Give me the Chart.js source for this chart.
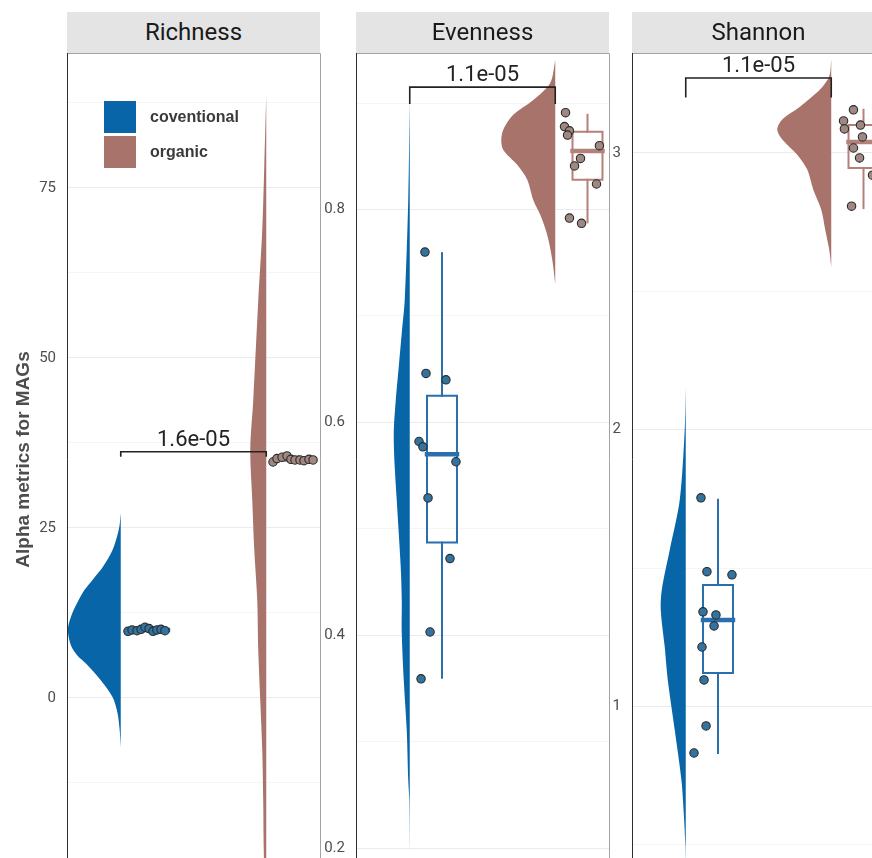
<!DOCTYPE html>
<html>
<head>
<meta charset="utf-8">
<script src="https://cdn.jsdelivr.net/npm/chart.js@4.4.1/dist/chart.umd.min.js"></script>
<style>
  html, body { margin: 0; padding: 0; background: #fff; width: 872px; height: 858px; overflow: hidden; }
  .pane { position: absolute; top: 0; }
  .strip { position: absolute; top: 12px; height: 41px; width: 253px; background: #e4e4e4; color: #1a1a1a;
           font: 24px Roboto, sans-serif; text-align: center; line-height: 41px; }
  .legend { position: absolute; left: 104px; top: 101px; font: bold 16px "Liberation Sans", Arial, sans-serif; color: #3a3a3a; }
  .key { display: flex; align-items: center; height: 32px; margin-bottom: 3px; }
  .swatch { width: 32px; height: 32px; margin-right: 14px; }
</style>
</head>
<body>
<div class="pane" style="left:0px"><canvas id="c1" width="321" height="866"></canvas></div>
<div class="pane" style="left:320px"><canvas id="c2" width="290" height="866"></canvas></div>
<div class="pane" style="left:609px"><canvas id="c3" width="277" height="866"></canvas></div>
<div class="strip" style="left:67px">Richness</div>
<div class="strip" style="left:356px">Evenness</div>
<div class="strip" style="left:632px">Shannon</div>
<div class="legend">
  <div class="key"><div class="swatch" style="background:#0866a8"></div>coventional</div>
  <div class="key"><div class="swatch" style="background:#a7736b"></div>organic</div>
</div>
<script>
// --- data ---
const groups = ['coventional', 'organic'];
const metrics = ['Richness', 'Evenness', 'Shannon'];
const pLabels = ['1.6e-05', '1.1e-05', '1.1e-05'];

const richTicks = [0, 25, 50, 75];
const evenTicks = [0.2, 0.4, 0.6, 0.8];
const shanTicks = [1, 2, 3];

// sample values and their horizontal jitter (x units)
const richConv = [9.8, 10.0, 9.9, 10.1, 10.4, 10.2, 9.8, 10.0, 10.1, 9.9];
const richConvJit = [-0.172, -0.144, -0.110, -0.082, -0.055, -0.027, 0, 0.027, 0.055, 0.082];
const richOrg = [34.7, 35.2, 35.4, 35.6, 35.1, 35.0, 35.0, 34.9, 35.1, 35.0];
const richOrgJit = [-0.175, -0.148, -0.113, -0.079, -0.052, -0.024, 0.010, 0.038, 0.072, 0.100];

const evenConv = [0.760, 0.646, 0.640, 0.582, 0.577, 0.563, 0.529, 0.472, 0.403, 0.359];
const evenConvJit = [-0.117, -0.110, 0.027, -0.158, -0.131, 0.096, -0.096, 0.055, -0.082, -0.144];
const evenOrg = [0.891, 0.878, 0.874, 0.870, 0.860, 0.848, 0.841, 0.824, 0.792, 0.787];
const evenOrgJit = [-0.151, -0.158, -0.124, -0.137, 0.082, -0.048, -0.089, 0.062, -0.124, -0.041];

const shanConv = [1.754, 1.487, 1.476, 1.342, 1.331, 1.291, 1.215, 1.096, 0.930, 0.832];
const shanConvJit = [-0.117, -0.076, 0.096, -0.103, -0.014, -0.027, -0.110, -0.096, -0.082, -0.165];
const shanOrg = [3.156, 3.116, 3.087, 3.101, 3.058, 3.018, 2.982, 2.920, 2.808, 3.045];
const shanOrgJit = [-0.069, -0.137, -0.131, -0.021, -0.007, -0.069, -0.027, 0.062, -0.082, 0.117];

// box stats: [lower whisker, q1, median, q3, upper whisker]
const richConvBox = [9.8, 9.9, 10.0, 10.1, 10.4];
const richOrgBox = [34.7, 35.0, 35.05, 35.15, 35.6];
const evenConvBox = [0.360, 0.487, 0.570, 0.625, 0.759];
const evenOrgBox = [0.788, 0.828, 0.855, 0.873, 0.889];
const shanConvBox = [0.832, 1.121, 1.313, 1.439, 1.747];
const shanOrgBox = [2.801, 2.946, 3.040, 3.101, 3.156];

// half violins: value levels and relative density
const richConvLvl = [27.2, 25.5, 24.3, 21.8, 19.3, 17.4, 15.9, 14.4, 12.6, 11.0, 10.0, 8.8, 7.5, 6.2, 5.1, 2.6, 0.1, -2.2, -4.7, -7.2];
const richConvDens = [0, 0.02, 0.05, 0.15, 0.33, 0.52, 0.67, 0.78, 0.89, 0.96, 0.98, 0.96, 0.91, 0.8, 0.65, 0.37, 0.15, 0.06, 0.02, 0];
const richOrgLvl = [88.7, 78.1, 68.8, 58.5, 43.8, 36.5, 29.1, 21.8, 14.4, 7.1, -0.3, -7.6, -15, -22.4, -28, -33];
const richOrgDens = [0, 0.037, 0.074, 0.148, 0.241, 0.296, 0.259, 0.222, 0.167, 0.148, 0.111, 0.074, 0.056, 0.046, 0.028, 0];

const evenConvLvl = [0.903, 0.809, 0.715, 0.684, 0.652, 0.621, 0.590, 0.558, 0.527, 0.496, 0.464, 0.433, 0.402, 0.358, 0.311, 0.264, 0.245, 0.198];
const evenConvDens = [0, 0.028, 0.093, 0.148, 0.204, 0.259, 0.296, 0.278, 0.241, 0.204, 0.167, 0.148, 0.148, 0.111, 0.056, 0.028, 0.009, 0];
const evenOrgLvl = [0.9405, 0.919, 0.903, 0.889, 0.875, 0.865, 0.856, 0.842, 0.828, 0.809, 0.795, 0.776, 0.753, 0.730];
const evenOrgDens = [0, 0.093, 0.407, 0.778, 0.963, 1.0, 0.963, 0.704, 0.519, 0.407, 0.278, 0.148, 0.056, 0];

const shanConvLvl = [2.152, 2.0, 1.747, 1.566, 1.421, 1.349, 1.215, 1.096, 0.915, 0.734, 0.615, 0.492, 0.40];
const shanConvDens = [0, 0.019, 0.111, 0.296, 0.444, 0.463, 0.389, 0.333, 0.204, 0.08, 0.037, 0.006, 0];
const shanOrgLvl = [3.338, 3.277, 3.230, 3.168, 3.121, 3.085, 3.049, 2.994, 2.940, 2.867, 2.795, 2.722, 2.650, 2.588];
const shanOrgDens = [0, 0.037, 0.204, 0.574, 0.907, 1.0, 0.907, 0.63, 0.444, 0.333, 0.185, 0.111, 0.037, 0];

// significance brackets: [top, tip end]
const richBracket = [36.2, 35.6];
const evenBracket = [0.915, 0.900];
const shanBracket = [3.271, 3.203];

// --- styling / layout ---
const fillCol = ['#0866a8', '#a7736b'];
const boxCol = ['#2a6fad', '#b3817a'];
const dotCol = ['#33739f', '#a08782'];
const X_MIN = 0.6306, X_MAX = 2.3694;
const BOX_SHIFT = 0.2216, BOX_HALF = 0.103, VIOLIN_W = 0.371;

Chart.defaults.font.family = 'Roboto';

const facets = [
  { id: 'c1', ticks: richTicks, min: -24.71, max: 94.85, axisW: 67, yTitle: true,
    lvl: [richConvLvl, richOrgLvl], dens: [richConvDens, richOrgDens],
    vals: [richConv, richOrg], jit: [richConvJit, richOrgJit],
    box: [richConvBox, richOrgBox], bracket: richBracket, p: pLabels[0] },
  { id: 'c2', ticks: evenTicks, min: 0.1831, max: 0.9471, axisW: 36,
    lvl: [evenConvLvl, evenOrgLvl], dens: [evenConvDens, evenOrgDens],
    vals: [evenConv, evenOrg], jit: [evenConvJit, evenOrgJit],
    box: [evenConvBox, evenOrgBox], bracket: evenBracket, p: pLabels[1] },
  { id: 'c3', ticks: shanTicks, min: 0.4237, max: 3.3613, axisW: 23,
    lvl: [shanConvLvl, shanOrgLvl], dens: [shanConvDens, shanOrgDens],
    vals: [shanConv, shanOrg], jit: [shanConvJit, shanOrgJit],
    box: [shanConvBox, shanOrgBox], bracket: shanBracket, p: pLabels[2] }
];

function lineSet(pts, color, width, order) {
  return { data: pts, showLine: true, borderColor: color, borderWidth: width, pointRadius: 0,
           fill: false, tension: 0, borderCapStyle: 'square', borderJoinStyle: 'miter', order: order };
}

function buildSets(f) {
  const sets = [];
  groups.forEach((g, gi) => {
    const gx = gi + 1;
    const c = gx + BOX_SHIFT, l = c - BOX_HALF, r = c + BOX_HALF;
    const b = f.box[gi];
    // jittered samples
    sets.push({ label: g, data: f.vals[gi].map((v, i) => ({ x: c + f.jit[gi][i], y: v })), showLine: false,
      pointRadius: 4.2, pointBackgroundColor: dotCol[gi], pointBorderColor: '#2a2a2a', pointBorderWidth: 1.1, order: 0 });
    // box
    sets.push(lineSet([{x: l, y: b[1]}, {x: r, y: b[1]}, {x: r, y: b[3]}, {x: l, y: b[3]}, {x: l, y: b[1]}], boxCol[gi], 2, 2));
    sets.push(lineSet([{x: c, y: b[3]}, {x: c, y: b[4]}], boxCol[gi], 2, 2));
    sets.push(lineSet([{x: c, y: b[0]}, {x: c, y: b[1]}], boxCol[gi], 2, 2));
    sets.push(lineSet([{x: l, y: b[2]}, {x: r, y: b[2]}], boxCol[gi], 4.5, 1));
    // half violin
    sets.push({ data: f.lvl[gi].map((v, i) => ({ x: gx - f.dens[gi][i] * VIOLIN_W, y: v })), showLine: true,
      borderColor: 'rgba(0,0,0,0)', borderWidth: 1, backgroundColor: fillCol[gi], fill: 'shape',
      tension: 0.3, pointRadius: 0, order: 4 });
  });
  // bracket
  const br = f.bracket;
  sets.push(lineSet([{x: 1, y: br[1]}, {x: 1, y: br[0]}, {x: 2, y: br[0]}, {x: 2, y: br[1]}], '#222', 1.6, 3));
  return sets;
}

function decoPlugin(f) {
  return {
    id: 'deco',
    afterDatasetsDraw(chart) {
      const { ctx, chartArea: a, scales: { x, y } } = chart;
      ctx.save();
      ctx.font = '22px Roboto';
      ctx.fillStyle = '#222';
      ctx.textAlign = 'center';
      ctx.textBaseline = 'alphabetic';
      ctx.fillText(f.p, x.getPixelForValue(1.5), y.getPixelForValue(f.bracket[0]) - 6);
      ctx.lineWidth = 1;
      ctx.strokeStyle = '#a3a3a3';
      ctx.beginPath();
      ctx.moveTo(a.left, a.top + 0.5);
      ctx.lineTo(a.right + 0.5, a.top + 0.5);
      ctx.lineTo(a.right + 0.5, a.bottom);
      ctx.stroke();
      ctx.strokeStyle = '#2e2e2e';
      ctx.beginPath();
      ctx.moveTo(a.left + 0.5, a.top);
      ctx.lineTo(a.left + 0.5, a.bottom);
      ctx.stroke();
      ctx.restore();
    }
  };
}

facets.forEach((f) => {
  const step = f.ticks[1] - f.ticks[0];
  const minor = [];
  for (let v = f.ticks[0] - step / 2; v < f.max; v += step) if (v > f.min) minor.push(v);
  const allTicks = f.ticks.concat(minor).filter(v => v > f.min && v < f.max).sort((a, b) => a - b);

  new Chart(document.getElementById(f.id), {
    type: 'line',
    data: { datasets: buildSets(f) },
    options: {
      responsive: false,
      animation: false,
      events: [],
      layout: { autoPadding: false, padding: { top: 53, right: 1, bottom: 0, left: 0 } },
      plugins: { legend: { display: false }, tooltip: { enabled: false } },
      scales: {
        x: { type: 'linear', min: X_MIN, max: X_MAX, display: false },
        y: {
          type: 'linear', min: f.min, max: f.max,
          afterFit: (s) => { s.width = f.axisW; s.paddingTop = 0; s.paddingBottom = 0; },
          afterBuildTicks: (s) => { s.ticks = allTicks.map(v => ({ value: v })); },
          border: { display: false },
          grid: { drawTicks: false, lineWidth: 1,
                  color: (c) => f.ticks.includes(c.tick.value) ? '#ebebeb' : '#f5f5f5' },
          ticks: { autoSkip: false, padding: 11, color: '#4d4d4d', font: { size: 15 },
                   callback: (v) => f.ticks.includes(v) ? String(v) : '' },
          title: { display: !!f.yTitle, text: 'Alpha metrics for MAGs', color: '#4d4d4d',
                   font: { family: 'Liberation Sans', size: 19, weight: 'bold' }, padding: { top: 12, bottom: 0 } }
        }
      }
    },
    plugins: [decoPlugin(f)]
  });
});
</script>
</body>
</html>
